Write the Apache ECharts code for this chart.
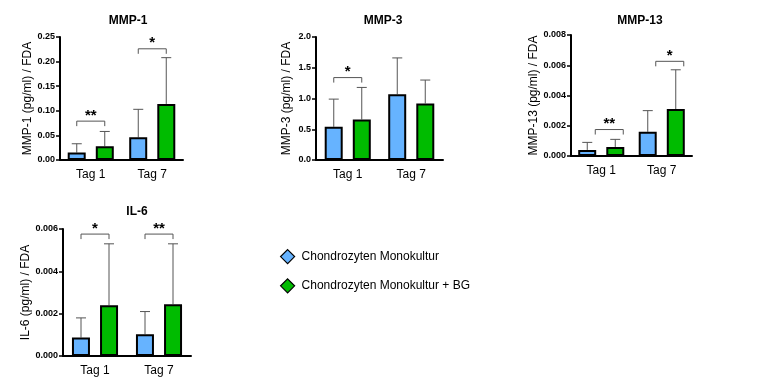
<!DOCTYPE html>
<html>
<head>
<meta charset="utf-8">
<script src="https://cdn.jsdelivr.net/npm/echarts@6/dist/echarts.min.js"></script>
<style>
html,body{margin:0;padding:0;background:#fff;}
#chart{width:761px;height:388px;}
</style>
</head>
<body>
<div id="chart"></div>
<script>
// ---- data ----
const categories = ['Tag 1', 'Tag 7'];
const seriesNames = ['Chondrozyten Monokultur', 'Chondrozyten Monokultur + BG'];

const mmp1Mono = [0.015, 0.046];
const mmp1MonoSD = [0.018, 0.057];
const mmp1BG = [0.028, 0.114];
const mmp1BGSD = [0.030, 0.094];
const mmp1SigCat = [0, 1];
const mmp1SigLevel = [0.079, 0.226];
const mmp1SigText = ['**', '*'];

const mmp3Mono = [0.54, 1.07];
const mmp3MonoSD = [0.45, 0.59];
const mmp3BG = [0.66, 0.92];
const mmp3BGSD = [0.52, 0.38];
const mmp3SigCat = [0];
const mmp3SigLevel = [1.34];
const mmp3SigText = ['*'];

const mmp13Mono = [0.0004, 0.0016];
const mmp13MonoSD = [0.0005, 0.0014];
const mmp13BG = [0.0006, 0.0031];
const mmp13BGSD = [0.0005, 0.0026];
const mmp13SigCat = [0, 1];
const mmp13SigLevel = [0.00175, 0.00626];
const mmp13SigText = ['**', '*'];

const il6Mono = [0.00087, 0.00103];
const il6MonoSD = [0.00093, 0.00107];
const il6BG = [0.0024, 0.00245];
const il6BGSD = [0.0029, 0.00285];
const il6SigCat = [0, 1];
const il6SigLevel = [0.00576, 0.00576];
const il6SigText = ['*', '**'];

const panels = [
  {title: 'MMP-1', yName: 'MMP-1 (pg/ml) / FDA', max: 0.25, interval: 0.05, dec: 2,
   mono: mmp1Mono, monoSD: mmp1MonoSD, bg: mmp1BG, bgSD: mmp1BGSD,
   sigCat: mmp1SigCat, sigLevel: mmp1SigLevel, sigText: mmp1SigText,
   grid: {left: 60, top: 37, width: 123, height: 123}, tx: 123, ty: 10, shift: 0},
  {title: 'MMP-3', yName: 'MMP-3 (pg/ml) / FDA', max: 2.0, interval: 0.5, dec: 1,
   mono: mmp3Mono, monoSD: mmp3MonoSD, bg: mmp3BG, bgSD: mmp3BGSD,
   sigCat: mmp3SigCat, sigLevel: mmp3SigLevel, sigText: mmp3SigText,
   grid: {left: 316, top: 37, width: 127, height: 123}, tx: 378, ty: 10, shift: 0},
  {title: 'MMP-13', yName: 'MMP-13 (pg/ml) / FDA', max: 0.008, interval: 0.002, dec: 3,
   mono: mmp13Mono, monoSD: mmp13MonoSD, bg: mmp13BG, bgSD: mmp13BGSD,
   sigCat: mmp13SigCat, sigLevel: mmp13SigLevel, sigText: mmp13SigText,
   grid: {left: 571, top: 35, width: 121, height: 121}, tx: 635, ty: 10, shift: 8},
  {title: 'IL-6', yName: 'IL-6 (pg/ml) / FDA', max: 0.006, interval: 0.002, dec: 3,
   mono: il6Mono, monoSD: il6MonoSD, bg: il6BG, bgSD: il6BGSD,
   sigCat: il6SigCat, sigLevel: il6SigLevel, sigText: il6SigText,
   grid: {left: 63, top: 229, width: 128, height: 127}, tx: 132, ty: 201, shift: 0}
];

const BLUE = '#66B3FF';
const GREEN = '#00BB00';
const FONT = 'Liberation Sans, Arial, sans-serif';
const HALF = 14; // half distance between paired bar centers (px)

function errRender(off) {
  return function (params, api) {
    const c = api.value(0), m = api.value(1), t = api.value(2);
    const p0 = api.coord([c, m]);
    const p1 = api.coord([c, t]);
    const x = p0[0] + off;
    const st = {stroke: '#555', lineWidth: 1, fill: null};
    return {type: 'group', children: [
      {type: 'line', shape: {x1: x, y1: p0[1], x2: x, y2: p1[1]}, style: st},
      {type: 'line', shape: {x1: x - 5, y1: p1[1], x2: x + 5, y2: p1[1]}, style: st}
    ]};
  };
}

function sigRender(shift, texts) {
  return function (params, api) {
    const c = api.value(0), lv = api.value(1);
    const p = api.coord([c, lv]);
    const x1 = p[0] - HALF + shift, x2 = p[0] + HALF + shift, y = p[1];
    return {type: 'group', children: [
      {type: 'polyline', shape: {points: [[x1, y + 5], [x1, y], [x2, y], [x2, y + 5]]},
       style: {stroke: '#555', lineWidth: 1, fill: null}},
      {type: 'text', style: {text: texts[params.dataIndex], x: (x1 + x2) / 2, y: y + 2,
        textAlign: 'center', textVerticalAlign: 'bottom',
        font: 'bold 15px ' + FONT, fill: '#000'}}
    ]};
  };
}

const option = {
  animation: false,
  backgroundColor: '#fff',
  title: [], grid: [], xAxis: [], yAxis: [], series: [],
  legend: {
    data: seriesNames,
    orient: 'vertical',
    left: 275, top: 244,
    itemWidth: 14, itemHeight: 14, itemGap: 14,
    icon: 'diamond',
    itemStyle: {borderColor: '#000', borderWidth: 1.2},
    textStyle: {fontFamily: FONT, fontSize: 12, color: '#000', padding: [0, 0, 0, 2]}
  }
};

panels.forEach((p, i) => {
  option.title.push({text: p.title, left: p.tx, top: p.ty, textAlign: 'center',
    textStyle: {fontFamily: FONT, fontSize: 12, fontWeight: 'bold', color: '#000'}});
  option.grid.push(Object.assign({containLabel: false}, p.grid));
  option.xAxis.push({type: 'category', gridIndex: i, data: categories,
    axisLine: {lineStyle: {color: '#000', width: 2}},
    axisTick: {show: false},
    axisLabel: {fontFamily: FONT, fontSize: 12, color: '#000', margin: 9}});
  option.yAxis.push({type: 'value', gridIndex: i, min: 0, max: p.max, interval: p.interval,
    name: p.yName, nameLocation: 'middle', nameRotate: 90, nameGap: 23,
    nameTextStyle: {fontFamily: FONT, fontSize: 12, color: '#000'},
    axisLine: {show: true, lineStyle: {color: '#000', width: 2}},
    axisTick: {show: true, length: 4, lineStyle: {color: '#000', width: 1.5}},
    splitLine: {show: false},
    axisLabel: {fontFamily: FONT, fontSize: 9, fontWeight: 'bold', color: '#000', margin: 5,
      formatter: v => v.toFixed(p.dec)}});
  const barCommon = {type: 'bar', xAxisIndex: i, yAxisIndex: i, barWidth: 18, barGap: '56%', z: 3};
  option.series.push(Object.assign({}, barCommon, {name: seriesNames[0], data: p.mono,
    itemStyle: {color: BLUE, borderColor: '#000', borderWidth: 2}}));
  option.series.push(Object.assign({}, barCommon, {name: seriesNames[1], data: p.bg,
    itemStyle: {color: GREEN, borderColor: '#000', borderWidth: 2}}));
  option.series.push({type: 'custom', xAxisIndex: i, yAxisIndex: i, z: 1,
    renderItem: errRender(-HALF), silent: true,
    data: p.mono.map((m, k) => [k, m, m + p.monoSD[k]])});
  option.series.push({type: 'custom', xAxisIndex: i, yAxisIndex: i, z: 1,
    renderItem: errRender(HALF), silent: true,
    data: p.bg.map((m, k) => [k, m, m + p.bgSD[k]])});
  option.series.push({type: 'custom', xAxisIndex: i, yAxisIndex: i, z: 4,
    renderItem: sigRender(p.shift, p.sigText), silent: true,
    data: p.sigCat.map((c, k) => [c, p.sigLevel[k]])});
});

const chart = echarts.init(document.getElementById('chart'), null, {renderer: 'canvas'});
chart.setOption(option);
</script>
</body>
</html>
